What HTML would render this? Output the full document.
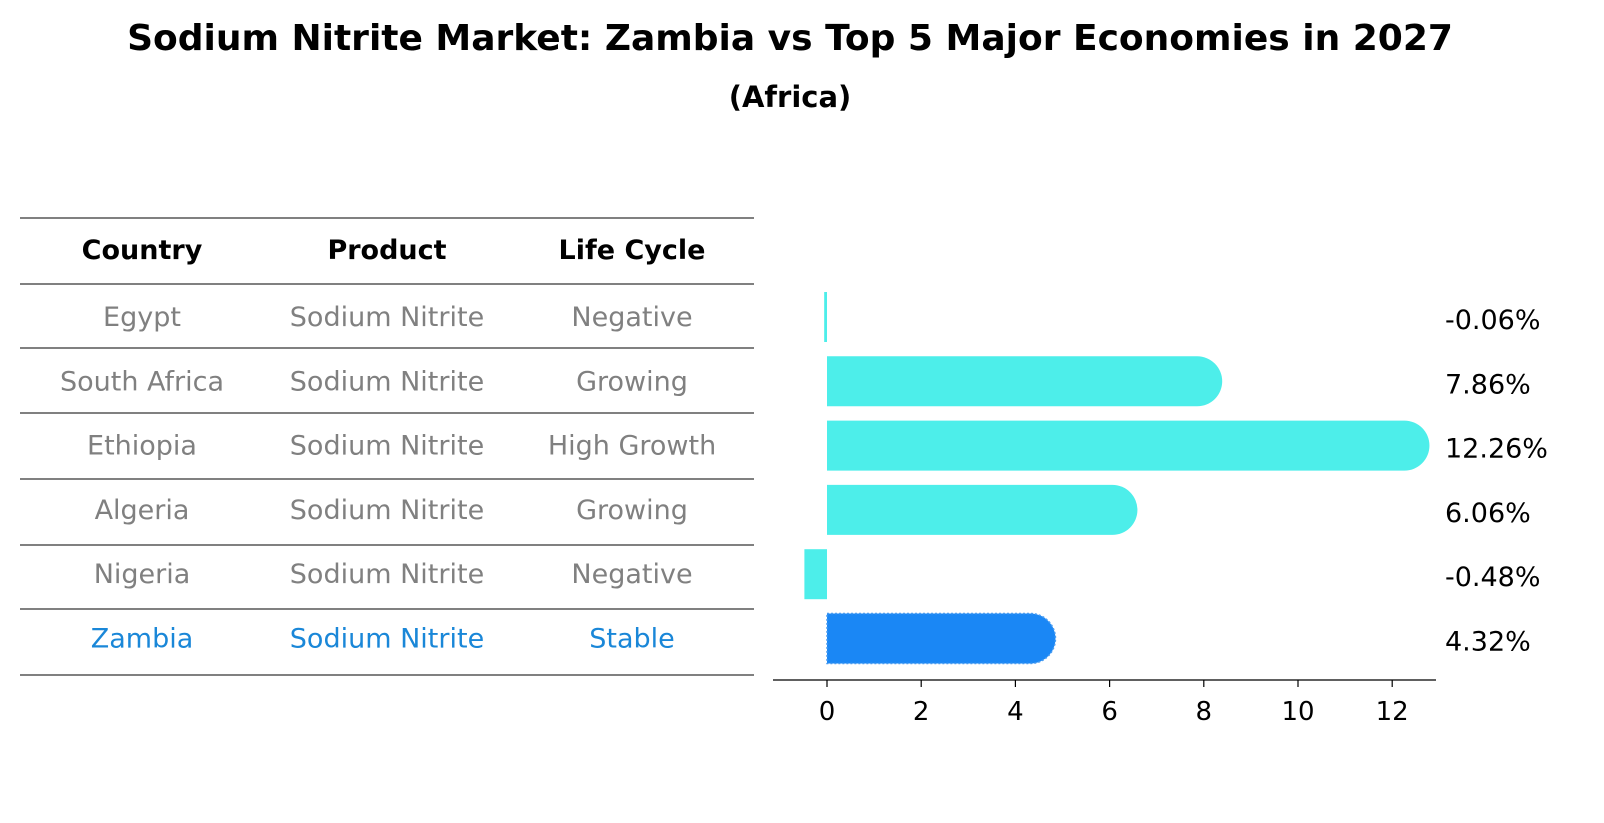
<!DOCTYPE html>
<html><head><meta charset="utf-8">
<style>
body{margin:0;background:#fff;font-family:"DejaVu Sans","Liberation Sans",sans-serif;}
#wrap{position:relative;width:1604px;height:823px;overflow:hidden;}
</style></head><body>
<div id="wrap">
<svg id="svg" width="1604" height="823" style="position:absolute;left:0;top:0">
<text x="790" y="50" text-anchor="middle" font-size="36" font-weight="bold" font-family="DejaVu Sans, Liberation Sans, sans-serif">Sodium Nitrite Market: Zambia vs Top 5 Major Economies in 2027</text>
<text x="790" y="107" text-anchor="middle" font-size="29" font-weight="bold" font-family="DejaVu Sans, Liberation Sans, sans-serif">(Africa)</text>
</svg>
</div>
<script>
const countries=["Egypt","South Africa","Ethiopia","Algeria","Nigeria","Zambia"];
const products=["Sodium Nitrite","Sodium Nitrite","Sodium Nitrite","Sodium Nitrite","Sodium Nitrite","Sodium Nitrite"];
const lifeCycle=["Negative","Growing","High Growth","Growing","Negative","Stable"];
const growth=[-0.06,7.86,12.26,6.06,-0.48,4.32];
const ticks=[0,2,4,6,8,10,12];
const NS="http://www.w3.org/2000/svg";
const svg=document.getElementById('svg');
const FF='DejaVu Sans, Liberation Sans, sans-serif';
function mk(tag,attrs,txt){const e=document.createElementNS(NS,tag);for(const k in attrs)e.setAttribute(k,attrs[k]);if(txt!==undefined)e.textContent=txt;svg.appendChild(e);return e;}
const x=v=>827+v*47.1;
const rowY=i=>317+i*64.3;
const lineYs=[218,284,348,413,479,545,609,675];
lineYs.forEach((y)=>{const l=mk('line',{x1:20,x2:754,y1:y,y2:y,stroke:'#000','stroke-width':1});

});
const cx=[142,387,632];
["Country","Product","Life Cycle"].forEach((h,j)=>{const t=mk('text',{x:cx[j],y:259,'text-anchor':'middle','font-size':27,'font-weight':'bold',fill:'#000','font-family':FF},h);

});
countries.forEach((c,i)=>{const y=rowY(i)+9;const col=i===5?'#1a87d8':'#808080';
[c,products[i],lifeCycle[i]].forEach((v,j)=>{const t=mk('text',{x:cx[j],y:y,'text-anchor':'middle','font-size':27,fill:col,'font-family':FF},v);

});});
growth.forEach((v,i)=>{const yc=rowY(i);const h=50;const z=i===5;const fill=z?'#1a87f5':'#4deeea';
let el;
if(v>=0){const w=x(v)-x(0);const r=h/2;
el=mk('path',{d:`M${x(0)},${yc-r} L${x(0)+w},${yc-r} A${r},${r} 0 0 1 ${x(0)+w},${yc+r} L${x(0)},${yc+r} Z`,fill:fill});
if(z){el.setAttribute('stroke','#4a9cf0');el.setAttribute('stroke-dasharray','2,2');el.setAttribute('stroke-width','1.5');}}
else{el=mk('rect',{x:x(v),y:yc-h/2,width:Math.max(x(0)-x(v),1.5),height:h,fill:fill});}


const t=mk('text',{x:1445,y:yc+12,'font-size':27,fill:'#000','font-family':FF},v.toFixed(2)+'%');

});
const ax=mk('line',{x1:773,x2:1436,y1:680,y2:680,stroke:'#000','stroke-width':1.2});


ticks.forEach(v=>{const l=mk('line',{x1:x(v),x2:x(v),y1:680,y2:687,stroke:'#000','stroke-width':1.2});


const t=mk('text',{x:x(v),y:720,'text-anchor':'middle','font-size':26,fill:'#000','font-family':FF},v);

});
</script>
</body></html>
